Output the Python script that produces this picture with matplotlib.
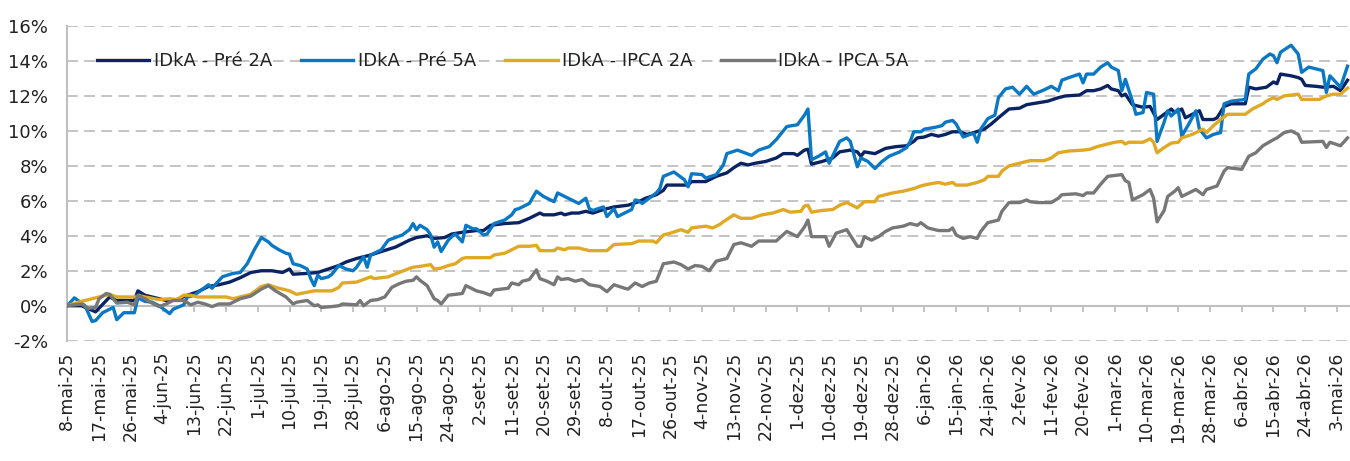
import numpy as np
import pandas as pd
import matplotlib
matplotlib.use("Agg")
import matplotlib.pyplot as plt
from matplotlib.ticker import FuncFormatter

inicio = pd.Timestamp("2025-05-08")

# IDkA - Pré 2A (dias desde 8-mai-25, retorno acumulado em %)
dias_pre2 = [0, 4, 8, 12, 14, 19, 20, 22, 25, 28, 31, 34, 37, 40, 43, 46, 49, 52, 55, 58,
             61, 63, 64, 68, 71, 74, 77, 79, 82, 84, 86, 89, 93, 97, 99, 102, 104, 107, 109, 112,
             116, 118, 120, 124, 128, 131, 134, 135, 138, 140, 141, 143, 145, 147, 149, 152, 155, 159, 162, 164,
             167, 169, 170, 176, 177, 181, 184, 187, 189, 191, 193, 195, 198, 201, 203, 206, 207, 209, 210, 211,
             214, 217, 219, 222, 224, 225, 226, 229, 232, 235, 238, 240, 241, 243, 245, 247, 249, 251, 253, 255,
             257, 260, 262, 264, 267, 270, 272, 275, 278, 281, 283, 287, 289, 291, 293, 295, 296, 298, 299, 300,
             302, 305, 307, 309, 311, 313, 314, 316, 317, 319, 321, 322, 325, 326, 328, 330, 334, 335, 337, 340,
             342, 343, 344, 347, 349, 350, 351, 354, 356, 359, 361, 363]
pre2 = [0.0, 0.0, -0.35, 0.5, 0.3, 0.3, 0.85, 0.6, 0.45, 0.3, 0.35, 0.6, 0.8, 1.1, 1.2, 1.35, 1.6, 1.9, 2.0, 2.0,
        1.9, 2.1, 1.8, 1.85, 1.9, 2.1, 2.3, 2.5, 2.7, 2.8, 2.9, 3.1, 3.35, 3.75, 3.9, 4.0, 3.85, 3.9, 4.1, 4.2,
        4.3, 4.3, 4.6, 4.7, 4.75, 5.0, 5.3, 5.2, 5.2, 5.3, 5.2, 5.3, 5.3, 5.4, 5.3, 5.5, 5.65, 5.75, 5.95, 6.15,
        6.35, 6.6, 6.9, 6.9, 7.1, 7.1, 7.4, 7.6, 7.9, 8.15, 8.05, 8.15, 8.25, 8.45, 8.7, 8.7, 8.6, 8.9, 8.95, 8.1,
        8.25, 8.45, 8.8, 8.9, 8.8, 8.55, 8.8, 8.7, 9.0, 9.1, 9.15, 9.4, 9.6, 9.65, 9.8, 9.7, 9.8, 9.95, 9.95, 9.8,
        9.9, 10.1, 10.4, 10.75, 11.25, 11.3, 11.5, 11.6, 11.7, 11.9, 12.0, 12.05, 12.3, 12.3, 12.4, 12.6, 12.4, 12.3, 12.0, 12.1,
        11.5, 11.35, 11.4, 10.65, 10.95, 11.25, 11.05, 11.25, 10.75, 10.95, 11.15, 10.65, 10.65, 10.75, 11.4, 11.55, 11.55, 12.5, 12.4, 12.5,
        12.8, 12.7, 13.25, 13.15, 13.05, 12.95, 12.6, 12.55, 12.5, 12.55, 12.3, 12.9]

# IDkA - Pré 5A
dias_pre5 = [0, 2, 4, 5, 7, 8, 10, 12, 13, 14, 16, 19, 20, 22, 24, 26, 29, 30, 33, 34,
             36, 38, 40, 41, 44, 47, 49, 51, 53, 55, 57, 58, 60, 62, 63, 64, 66, 68, 69, 70,
             71, 72, 74, 75, 77, 79, 81, 82, 84, 85, 86, 89, 91, 95, 97, 98, 99, 100, 102, 103,
             104, 105, 106, 108, 109, 110, 112, 113, 115, 116, 118, 119, 121, 124, 126, 127, 128, 131, 133, 135,
             138, 139, 142, 143, 145, 147, 148, 149, 152, 153, 155, 156, 158, 160, 161, 162, 163, 165, 167, 168,
             169, 172, 175, 176, 177, 180, 181, 184, 186, 187, 190, 194, 196, 199, 201, 204, 207, 209, 210, 211,
             213, 215, 216, 219, 221, 222, 224, 225, 227, 229, 231, 233, 236, 238, 239, 240, 242, 243, 246, 248,
             249, 251, 252, 254, 256, 257, 258, 259, 261, 263, 264, 266, 268, 270, 272, 274, 277, 279, 281, 282,
             284, 287, 288, 289, 291, 293, 295, 296, 298, 299, 300, 302, 303, 305, 306, 308, 309, 311, 312, 313,
             315, 316, 318, 320, 321, 323, 325, 327, 328, 330, 334, 335, 337, 339, 341, 342, 343, 344, 347, 349,
             350, 352, 356, 357, 358, 361, 363]
pre5 = [0.0, 0.45, 0.15, 0.0, -0.9, -0.85, -0.4, -0.2, -0.1, -0.8, -0.4, -0.4, 0.45, 0.25, 0.2, 0.0, -0.45, -0.2, 0.05, 0.5,
        0.6, 0.9, 1.2, 1.0, 1.66, 1.85, 1.9, 2.4, 3.2, 3.9, 3.65, 3.45, 3.2, 3.0, 2.95, 2.4, 2.3, 2.1, 1.55, 1.15,
        1.75, 1.55, 1.65, 1.8, 2.3, 2.1, 2.0, 2.2, 2.8, 2.2, 2.9, 3.2, 3.75, 4.05, 4.35, 4.7, 4.35, 4.6, 4.35, 4.05,
        3.35, 3.65, 3.1, 3.75, 3.95, 4.1, 3.65, 4.6, 4.4, 4.4, 4.05, 4.1, 4.7, 4.9, 5.2, 5.5, 5.55, 5.85, 6.55, 6.25,
        5.95, 6.45, 6.15, 6.05, 5.85, 6.15, 5.55, 5.45, 5.65, 5.1, 5.55, 5.1, 5.3, 5.5, 6.05, 6.0, 5.85, 6.15, 6.45, 6.7,
        7.4, 7.65, 7.2, 6.8, 7.55, 7.5, 7.3, 7.5, 8.05, 8.7, 8.9, 8.6, 8.9, 9.1, 9.5, 10.25, 10.35, 10.9, 11.25, 8.35,
        8.55, 8.8, 8.15, 9.4, 9.6, 9.4, 7.95, 8.45, 8.25, 7.85, 8.25, 8.55, 8.8, 9.05, 9.4, 9.95, 9.95, 10.1, 10.2, 10.3,
        10.5, 10.6, 10.4, 9.65, 9.8, 9.85, 9.35, 10.1, 10.7, 10.9, 11.9, 12.4, 12.5, 12.1, 12.55, 12.1, 12.35, 12.55, 12.3, 12.9,
        13.05, 13.25, 12.75, 13.25, 13.25, 13.65, 13.9, 13.65, 13.45, 12.3, 12.95, 11.7, 10.95, 11.05, 12.2, 12.1, 9.4, 10.5, 11.15, 10.85,
        11.25, 9.7, 10.4, 11.15, 10.1, 9.6, 9.8, 9.9, 11.55, 11.7, 11.8, 13.25, 13.55, 14.1, 14.4, 14.3, 13.9, 14.5, 14.9, 14.4,
        13.35, 13.65, 13.45, 12.2, 13.15, 12.5, 13.7]

# IDkA - IPCA 2A
dias_ipca2 = [0, 4, 7, 12, 14, 19, 21, 22, 26, 29, 31, 33, 35, 37, 45, 47, 52, 55, 57, 59,
              63, 65, 70, 75, 77, 78, 82, 84, 86, 87, 91, 94, 98, 100, 103, 104, 106, 108, 110, 112,
              113, 118, 120, 121, 124, 126, 128, 131, 133, 134, 138, 139, 141, 142, 145, 148, 153, 155, 160, 162,
              166, 167, 169, 171, 174, 176, 177, 181, 183, 185, 186, 189, 191, 194, 197, 200, 203, 205, 208, 209,
              210, 211, 214, 217, 219, 221, 224, 226, 229, 230, 234, 237, 240, 242, 244, 247, 249, 251, 252, 255,
              258, 260, 261, 264, 265, 267, 269, 271, 273, 277, 279, 281, 284, 288, 290, 292, 294, 297, 299, 300,
              301, 305, 307, 308, 309, 311, 313, 315, 316, 319, 321, 322, 323, 325, 327, 329, 334, 336, 338, 339,
              340, 342, 343, 345, 349, 350, 355, 357, 359, 361, 363]
ipca2 = [0.0, 0.25, 0.4, 0.65, 0.5, 0.5, 0.55, 0.5, 0.35, 0.4, 0.35, 0.6, 0.6, 0.5, 0.5, 0.4, 0.65, 1.1, 1.2, 1.05,
         0.85, 0.65, 0.85, 0.85, 1.05, 1.3, 1.35, 1.5, 1.65, 1.55, 1.65, 1.9, 2.2, 2.25, 2.35, 2.1, 2.15, 2.3, 2.4, 2.7,
         2.75, 2.75, 2.75, 2.9, 3.0, 3.2, 3.4, 3.4, 3.45, 3.15, 3.15, 3.3, 3.2, 3.3, 3.3, 3.15, 3.15, 3.5, 3.55, 3.7,
         3.7, 3.6, 4.05, 4.15, 4.35, 4.2, 4.45, 4.55, 4.45, 4.65, 4.8, 5.2, 5.0, 5.0, 5.2, 5.3, 5.5, 5.35, 5.4, 5.7,
         5.75, 5.35, 5.45, 5.5, 5.75, 5.9, 5.6, 5.95, 5.95, 6.25, 6.45, 6.55, 6.7, 6.85, 6.95, 7.05, 6.95, 7.05, 6.9, 6.9,
         7.05, 7.2, 7.4, 7.4, 7.7, 8.0, 8.1, 8.2, 8.3, 8.3, 8.45, 8.75, 8.85, 8.9, 8.95, 9.1, 9.2, 9.35, 9.4, 9.25,
         9.35, 9.35, 9.55, 9.35, 8.75, 9.05, 9.3, 9.35, 9.6, 9.8, 10.0, 10.1, 9.9, 10.3, 10.65, 10.95, 10.95, 11.25, 11.45, 11.55,
         11.7, 11.9, 11.8, 12.0, 12.1, 11.8, 11.8, 12.0, 12.1, 12.1, 12.45]

# IDkA - IPCA 5A
dias_ipca5 = [0, 4, 6, 8, 9, 11, 12, 14, 17, 19, 20, 22, 24, 26, 28, 30, 33, 35, 37, 39,
              41, 43, 46, 49, 52, 55, 57, 59, 62, 64, 65, 68, 70, 71, 72, 75, 77, 78, 82, 83,
              84, 86, 88, 90, 92, 94, 96, 98, 99, 100, 102, 104, 105, 106, 108, 110, 112, 113, 115, 116,
              118, 120, 121, 125, 126, 128, 129, 131, 133, 134, 136, 138, 139, 140, 142, 144, 146, 148, 151, 153,
              155, 158, 159, 161, 163, 165, 167, 169, 172, 174, 176, 178, 180, 182, 184, 187, 189, 191, 194, 196,
              201, 204, 206, 207, 209, 210, 211, 215, 216, 218, 221, 224, 225, 226, 228, 230, 232, 234, 237, 239,
              241, 242, 244, 245, 247, 250, 251, 252, 254, 256, 258, 259, 261, 264, 265, 267, 270, 272, 273, 275,
              279, 281, 282, 286, 288, 289, 291, 293, 295, 299, 300, 301, 302, 304, 305, 307, 308, 309, 311, 312,
              314, 315, 316, 318, 320, 322, 323, 326, 328, 329, 333, 335, 337, 339, 342, 343, 345, 347, 349, 350,
              356, 357, 358, 361, 363]
ipca5 = [0.0, 0.1, -0.15, -0.1, 0.4, 0.7, 0.65, 0.15, 0.2, 0.05, 0.6, 0.4, 0.15, -0.05, 0.1, 0.3, 0.3, 0.05, 0.2, 0.1,
         -0.05, 0.1, 0.1, 0.4, 0.55, 0.95, 1.15, 0.85, 0.5, 0.1, 0.2, 0.3, 0.0, 0.05, -0.1, -0.05, 0.0, 0.1, 0.05, 0.3,
         0.0, 0.3, 0.35, 0.5, 1.05, 1.25, 1.4, 1.45, 1.65, 1.45, 1.15, 0.4, 0.3, 0.1, 0.6, 0.65, 0.7, 1.15, 0.95, 0.85,
         0.75, 0.6, 0.9, 1.0, 1.3, 1.2, 1.4, 1.5, 2.05, 1.55, 1.4, 1.2, 1.65, 1.5, 1.55, 1.4, 1.5, 1.2, 1.1, 0.8,
         1.2, 1.0, 0.95, 1.3, 1.1, 1.3, 1.4, 2.4, 2.5, 2.35, 2.1, 2.3, 2.25, 2.0, 2.55, 2.7, 3.5, 3.6, 3.4, 3.7,
         3.7, 4.25, 4.05, 3.95, 4.5, 4.9, 3.95, 3.95, 3.4, 4.15, 4.35, 3.4, 3.4, 3.95, 3.75, 3.95, 4.25, 4.45, 4.55, 4.7,
         4.6, 4.75, 4.45, 4.4, 4.3, 4.3, 4.45, 4.05, 3.85, 3.95, 3.85, 4.25, 4.75, 4.9, 5.4, 5.9, 5.9, 6.05, 5.95, 5.9,
         5.9, 6.15, 6.35, 6.4, 6.3, 6.45, 6.45, 6.95, 7.4, 7.5, 7.15, 7.05, 6.05, 6.25, 6.35, 6.65, 6.15, 4.8, 5.45, 6.25,
         6.55, 6.75, 6.25, 6.45, 6.65, 6.35, 6.65, 6.85, 7.7, 7.9, 7.8, 8.55, 8.75, 9.15, 9.5, 9.6, 9.9, 10.0, 9.8, 9.35,
         9.4, 9.05, 9.35, 9.15, 9.6]

series = [
    ("IDkA - Pré 2A", dias_pre2, pre2, "#0A2463"),
    ("IDkA - Pré 5A", dias_pre5, pre5, "#0A78C4"),
    ("IDkA - IPCA 2A", dias_ipca2, ipca2, "#E1A823"),
    ("IDkA - IPCA 5A", dias_ipca5, ipca5, "#777777"),
]

meses = ["jan", "fev", "mar", "abr", "mai", "jun", "jul", "ago", "set", "out", "nov", "dez"]
ticks = pd.date_range("2025-05-08", "2026-05-03", freq="9D")
tick_labels = [f"{d.day}-{meses[d.month - 1]}-{d.strftime('%y')}" for d in ticks]

fig = plt.figure(figsize=(13.5, 4.61), dpi=100)
ax = fig.add_axes([0.0499, 0.261, 0.9501, 0.6826])

grid_col = "#BFBFBF"
for y in range(-2, 17, 2):
    if y == 0:
        continue
    ax.axhline(y, color=grid_col, lw=1.3, ls=(0, (6, 3.5)), zorder=1)
ax.axhline(0, color=grid_col, lw=1.5, zorder=1)
ax.vlines(ticks, -0.35, 0, color=grid_col, lw=1.3, zorder=1)

for nome, dias, vals, cor in series:
    datas = inicio + pd.to_timedelta(dias, unit="D")
    ax.plot(datas, vals, color=cor, lw=2.4, label=nome, zorder=3, solid_joinstyle="round")

ax.set_ylim(-2, 16)
ax.set_yticks(range(-2, 17, 2))
ax.yaxis.set_major_formatter(FuncFormatter(lambda v, p: f"{v:.0f}%"))
ax.set_xlim(inicio, inicio + pd.Timedelta(days=363.7))
ax.set_xticks(ticks)
ax.set_xticklabels(tick_labels, rotation=90, va="top", ha="center")

for s in ["top", "right", "bottom"]:
    ax.spines[s].set_visible(False)
ax.spines["left"].set_color(grid_col)
ax.spines["left"].set_linewidth(1.5)
ax.tick_params(axis="y", length=0, pad=14, labelsize=13, colors="#222222")
ax.tick_params(axis="x", length=0, pad=8, labelsize=12.5, colors="#222222")

leg = ax.legend(loc="center left", bbox_to_anchor=(0.0232, 0.889), ncol=4, frameon=False,
                fontsize=13, handlelength=2.9, handletextpad=0.25, columnspacing=1.6,
                borderpad=0, borderaxespad=0)
for t in leg.get_texts():
    t.set_color("#222222")

fig.savefig("out.png", dpi=100)
